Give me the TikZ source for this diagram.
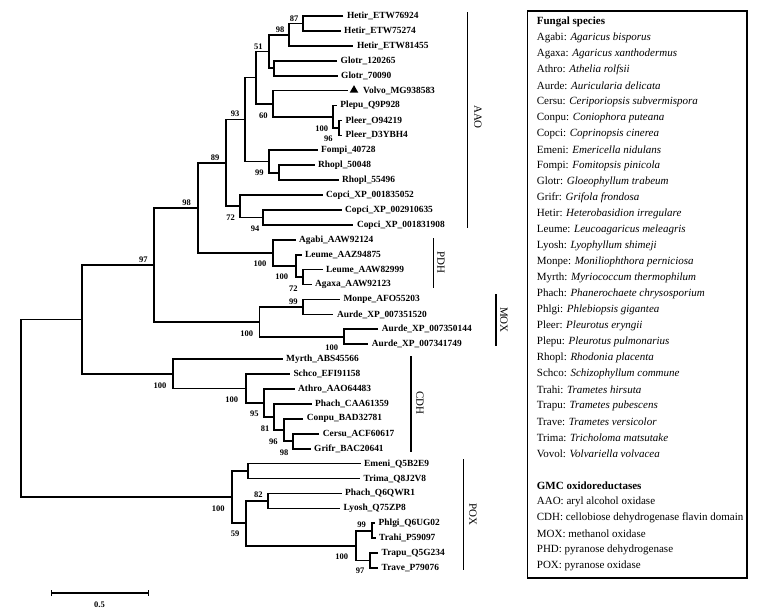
\documentclass[tikz,border=0pt]{standalone}
\usepackage{fontspec}
\setmainfont{Liberation Serif}
\usetikzlibrary{arrows.meta,shapes.geometric}
\begin{document}
\begin{tikzpicture}[x=1pt,y=-1pt,
  tree/.style={line width=1.7pt},
  leaf/.style={anchor=west,inner xsep=3.5pt,inner ysep=0.5pt,font=\fontsize{9.4}{10}\selectfont\bfseries},
  bs/.style={inner sep=0pt,font=\fontsize{8.5}{9}\selectfont\bfseries},
  cbar/.style={line width=1.5pt},
  clab/.style={rotate=-90,inner sep=0pt,font=\fontsize{11}{12}\selectfont},
  leg/.style={anchor=west,inner sep=0pt,font=\fontsize{11}{12}\selectfont}]
\useasboundingbox (0,0) rectangle (760,614);
% ---------- leaves ----------
\node[leaf] (l0) at (343.3,16.00) {Hetir\_ETW76924};
\node[leaf] (l1) at (340.5,30.92) {Hetir\_ETW75274};
\node[leaf] (l2) at (353.3,45.84) {Hetir\_ETW81455};
\node[leaf] (l3) at (337.0,60.76) {Glotr\_120265};
\node[leaf] (l4) at (337.5,75.68) {Glotr\_70090};
\node[leaf,inner xsep=15.5pt] (l5) at (347.5,90.60) {Volvo\_MG938583};
\node[fill=black,regular polygon,regular polygon sides=3,inner sep=0pt,minimum size=10pt] (tri) at (354,90.2) {};
\node[leaf] (l6) at (336.7,105.52) {Plepu\_Q9P928};
\node[leaf] (l7) at (342.0,120.44) {Pleer\_O94219};
\node[leaf] (l8) at (342.0,135.36) {Pleer\_D3YBH4};
\node[leaf] (l9) at (317.5,150.28) {Fompi\_40728};
\node[leaf] (l10) at (314.5,165.20) {Rhopl\_50048};
\node[leaf] (l11) at (338.5,180.12) {Rhopl\_55496};
\node[leaf] (l12) at (322.5,195.04) {Copci\_XP\_001835052};
\node[leaf] (l13) at (341.5,209.96) {Copci\_XP\_002910635};
\node[leaf] (l14) at (353.3,224.88) {Copci\_XP\_001831908};
\node[leaf] (l15) at (295.5,239.80) {Agabi\_AAW92124};
\node[leaf] (l16) at (301.5,254.72) {Leume\_AAZ94875};
\node[leaf] (l17) at (322.5,269.64) {Leume\_AAW82999};
\node[leaf] (l18) at (311.5,284.56) {Agaxa\_AAW92123};
\node[leaf] (l19) at (339.8,299.48) {Monpe\_AFO55203};
\node[leaf] (l20) at (333.3,314.40) {Aurde\_XP\_007351520};
\node[leaf] (l21) at (378.2,329.32) {Aurde\_XP\_007350144};
\node[leaf] (l22) at (368.2,344.24) {Aurde\_XP\_007341749};
\node[leaf] (l23) at (282.5,359.16) {Myrth\_ABS45566};
\node[leaf] (l24) at (289.8,374.08) {Schco\_EFI91158};
\node[leaf] (l25) at (294.5,389.00) {Athro\_AAO64483};
\node[leaf] (l26) at (311.5,403.92) {Phach\_CAA61359};
\node[leaf] (l27) at (303.2,418.84) {Conpu\_BAD32781};
\node[leaf] (l28) at (319.2,433.76) {Cersu\_ACF60617};
\node[leaf] (l29) at (310.5,448.68) {Grifr\_BAC20641};
\node[leaf] (l30) at (360.5,463.60) {Emeni\_Q5B2E9};
\node[leaf] (l31) at (360.0,478.52) {Trima\_Q8J2V8};
\node[leaf] (l32) at (341.5,493.44) {Phach\_Q6QWR1};
\node[leaf] (l33) at (340.0,508.36) {Lyosh\_Q75ZP8};
\node[leaf] (l34) at (375.0,523.28) {Phlgi\_Q6UG02};
\node[leaf] (l35) at (375.5,538.20) {Trahi\_P59097};
\node[leaf] (l36) at (378.0,553.12) {Trapu\_Q5G234};
\node[leaf] (l37) at (378.0,568.04) {Trave\_P79076};
% ---------- internal nodes ----------
\coordinate (A) at (303.3,23.46);
\coordinate (B) at (289.3,34.65);
\coordinate (G) at (274.3,68.22);
\coordinate (C) at (269.3,51.44);
\coordinate (PLE2) at (339.3,127.90);
\coordinate (PLE) at (333.3,116.71);
\coordinate (N60) at (273.3,103.66);
\coordinate (D) at (256.0,77.55);
\coordinate (RH) at (279.0,172.66);
\coordinate (F99) at (269.0,161.47);
\coordinate (N93) at (245.0,119.51);
\coordinate (CP2) at (263.3,217.42);
\coordinate (CP) at (240.0,206.23);
\coordinate (N89) at (225.7,162.87);
\coordinate (L2) at (302.7,277.10);
\coordinate (L1) at (296.0,265.91);
\coordinate (PDH) at (273.3,252.86);
\coordinate (N98) at (197.7,207.87);
\coordinate (MA) at (302.7,306.94);
\coordinate (AU) at (344.0,336.78);
\coordinate (MOX) at (259.5,321.86);
\coordinate (N98b) at (154.3,264.87);
\coordinate (C5) at (293.3,441.22);
\coordinate (C4) at (284.3,430.03);
\coordinate (C3) at (274.3,416.98);
\coordinate (C2) at (264.3,402.99);
\coordinate (C1) at (245.7,388.54);
\coordinate (CDH) at (172.7,373.85);
\coordinate (N97) at (81.7,319.36);
\coordinate (EM) at (248.3,471.06);
\coordinate (P82) at (268.3,500.90);
\coordinate (P99) at (371.7,530.74);
\coordinate (P97) at (370.0,560.58);
\coordinate (P100) at (356.0,545.66);
\coordinate (P59) at (245.7,523.28);
\coordinate (POX) at (231.7,497.17);
\coordinate (ROOT) at (21.0,408.27);
% ---------- branches ----------
\draw[tree] (l0.west) -| (A) |- (l1.west);
\draw[tree] (A) -| (B) |- (l2.west);
\draw[tree] (l3.west) -| (G) |- (l4.west);
\draw[tree] (B) -| (C) |- (G);
\draw[tree] (l7.west) -| (PLE2) |- (l8.west);
\draw[tree] (l6.west) -| (PLE) |- (PLE2);
\draw[tree] (l5.west) -| (N60) |- (PLE);
\draw[tree] (C) -| (D) |- (N60);
\draw[tree] (l10.west) -| (RH) |- (l11.west);
\draw[tree] (l9.west) -| (F99) |- (RH);
\draw[tree] (D) -| (N93) |- (F99);
\draw[tree] (l13.west) -| (CP2) |- (l14.west);
\draw[tree] (l12.west) -| (CP) |- (CP2);
\draw[tree] (N93) -| (N89) |- (CP);
\draw[tree] (l17.west) -| (L2) |- (l18.west);
\draw[tree] (l16.west) -| (L1) |- (L2);
\draw[tree] (l15.west) -| (PDH) |- (L1);
\draw[tree] (N89) -| (N98) |- (PDH);
\draw[tree] (l19.west) -| (MA) |- (l20.west);
\draw[tree] (l21.west) -| (AU) |- (l22.west);
\draw[tree] (MA) -| (MOX) |- (AU);
\draw[tree] (N98) -| (N98b) |- (MOX);
\draw[tree] (l28.west) -| (C5) |- (l29.west);
\draw[tree] (l27.west) -| (C4) |- (C5);
\draw[tree] (l26.west) -| (C3) |- (C4);
\draw[tree] (l25.west) -| (C2) |- (C3);
\draw[tree] (l24.west) -| (C1) |- (C2);
\draw[tree] (l23.west) -| (CDH) |- (C1);
\draw[tree] (N98b) -| (N97) |- (CDH);
\draw[tree] (l30.west) -| (EM) |- (l31.west);
\draw[tree] (l32.west) -| (P82) |- (l33.west);
\draw[tree] (l34.west) -| (P99) |- (l35.west);
\draw[tree] (l36.west) -| (P97) |- (l37.west);
\draw[tree] (P99) -| (P100) |- (P97);
\draw[tree] (P82) -| (P59) |- (P100);
\draw[tree] (EM) -| (POX) |- (P59);
\draw[tree] (N97) -| (ROOT) |- (POX);
% ---------- bootstrap values ----------
\node[bs] (b1) at (294,18.3) {87};
\node[bs] (b2) at (280,29.3) {98};
\node[bs] (b3) at (258.3,46.7) {51};
\node[bs] (b4) at (235,114) {93};
\node[bs] (b5) at (263.3,115.5) {60};
\node[bs] (b6) at (321.7,128.3) {100};
\node[bs] (b7) at (328.3,138.3) {96};
\node[bs] (b8) at (215,157.3) {89};
\node[bs] (b9) at (259.3,172.7) {99};
\node[bs] (b10) at (186.7,202.7) {98};
\node[bs] (b11) at (230.7,217.3) {72};
\node[bs] (b12) at (255,228.3) {94};
\node[bs] (b13) at (143.3,259.3) {97};
\node[bs] (b14) at (260,263.3) {100};
\node[bs] (b15) at (281.7,276.7) {100};
\node[bs] (b16) at (293.3,288.3) {72};
\node[bs] (b17) at (293.3,301.7) {99};
\node[bs] (b18) at (246.7,333.3) {100};
\node[bs] (b19) at (331.7,347.3) {100};
\node[bs] (b20) at (160,385.7) {100};
\node[bs] (b21) at (231.7,399.3) {100};
\node[bs] (b22) at (254.3,414) {95};
\node[bs] (b23) at (265,428.3) {81};
\node[bs] (b24) at (273.3,441.7) {96};
\node[bs] (b25) at (284,452.3) {98};
\node[bs] (b26) at (258.3,494.3) {82};
\node[bs] (b27) at (218.3,508.3) {100};
\node[bs] (b28) at (235,534) {59};
\node[bs] (b29) at (361.7,525) {99};
\node[bs] (b30) at (341.7,556.7) {100};
\node[bs] (b31) at (360,571) {97};
% ---------- clade bars ----------
\coordinate (aaoT) at (467.3,12); \coordinate (aaoB) at (467.3,228);
\draw[cbar] (aaoT) -- (aaoB);
\node[clab] (aaoL) at (478,117) {AAO};
\coordinate (pdhT) at (433.3,238); \coordinate (pdhB) at (433.3,288);
\draw[cbar] (pdhT) -- (pdhB);
\node[clab] (pdhL) at (441,262) {PDH};
\coordinate (moxT) at (496,294); \coordinate (moxB) at (496,346);
\draw[cbar] (moxT) -- (moxB);
\node[clab] (moxL) at (504,320) {MOX};
\coordinate (cdhT) at (411,356); \coordinate (cdhB) at (411,452);
\draw[cbar] (cdhT) -- (cdhB);
\node[clab] (cdhL) at (420,403) {CDH};
\coordinate (poxT) at (463.3,459); \coordinate (poxB) at (463.3,570);
\draw[cbar] (poxT) -- (poxB);
\node[clab] (poxL) at (473,514) {POX};
% ---------- scale bar ----------
\coordinate (s1) at (50.7,593); \coordinate (s2) at (149,593);
\draw[line width=1.2pt,{Bar[width=6pt]}-{Bar[width=6pt]}] (s1) -- (s2);
\node[bs] (slab) at (99.5,604.5) {0.5};
% ---------- legend ----------
\coordinate (boxA) at (527.5,11); \coordinate (boxB) at (747,578);
\draw[line width=1.3pt] (boxA) rectangle (boxB);
\node[leg] (g0) at (536.7,22) {\textbf{Fungal species}};
\foreach \a/\b [count=\i] in {Agabi/Agaricus bisporus,Agaxa/Agaricus xanthodermus,Athro/Athelia rolfsii,Aurde/Auricularia delicata,Cersu/Ceriporiopsis subvermispora,Conpu/Coniophora puteana,Copci/Coprinopsis cinerea,Emeni/Emericella nidulans,Fompi/Fomitopsis pinicola,Glotr/Gloeophyllum trabeum,Grifr/Grifola frondosa,Hetir/Heterobasidion irregulare,Leume/Leucoagaricus meleagris,Lyosh/Lyophyllum shimeji,Monpe/Moniliophthora perniciosa,Myrth/Myriococcum thermophilum,Phach/Phanerochaete chrysosporium,Phlgi/Phlebiopsis gigantea,Pleer/Pleurotus eryngii,Plepu/Pleurotus pulmonarius,Rhopl/Rhodonia placenta,Schco/Schizophyllum commune,Trahi/Trametes hirsuta,Trapu/Trametes pubescens,Trave/Trametes versicolor,Trima/Tricholoma matsutake,Vovol/Volvariella volvacea}
  \node[leg] (sp\i) at (536.7,{22+16*\i}) {\a: \textit{\b}};
\node[leg] (g1) at (536.7,486) {\textbf{GMC oxidoreductases}};
\foreach \a/\b [count=\i] in {AAO/aryl alcohol oxidase,CDH/cellobiose dehydrogenase flavin domain,MOX/methanol oxidase,PHD/pyranose dehydrogenase,POX/pyranose oxidase}
  \node[leg] (ox\i) at (536.7,{486+16*\i}) {\a: \b};
\end{tikzpicture}
\end{document}
